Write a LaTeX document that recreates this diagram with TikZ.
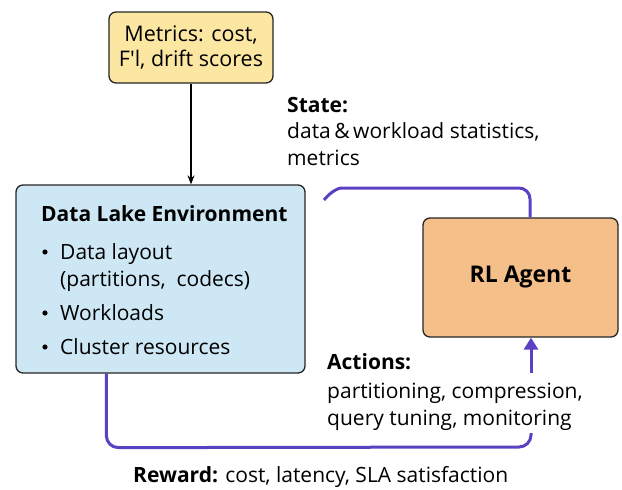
\documentclass[tikz,border=0pt]{standalone}
\usepackage{fontspec}
\setmainfont{Open Sans}
\usetikzlibrary{arrows.meta,calc}
\definecolor{yel}{HTML}{FBE6A2}
\definecolor{blu}{HTML}{CDE8F4}
\definecolor{ora}{HTML}{F5BF8A}
\definecolor{pur}{HTML}{5A40C2}
\tikzset{
  box/.style={draw=black!85,line width=1.3pt,rounded corners=7pt,inner sep=0pt},
  txt/.style={anchor=base west,inner sep=0pt,font=\fontsize{21}{26}\selectfont},
  btxt/.style={txt,font=\fontsize{21}{26}\selectfont\bfseries},
  pline/.style={draw=pur,line width=3pt},
}
\begin{document}
\begin{tikzpicture}[x=1pt,y=-1pt]
\useasboundingbox (0,0) rectangle (622,490);
% boxes
\node[box,fill=yel,minimum width=164pt,minimum height=71pt,align=center,
  font=\fontsize{21.5}{25}\selectfont] (metrics) at (191,47.5) {Metrics: cost,\\F\textquotesingle l, drift scores};
\node[box,fill=blu,minimum width=289pt,minimum height=188pt] (lake) at (160.5,279) {};
\node[box,fill=ora,minimum width=195pt,minimum height=119pt,
  font=\fontsize{23}{28}\selectfont\bfseries] (agent) at (520.5,277.5) {RL Agent};
% lake text
\node[btxt] (laket) at (41,221) {Data Lake Environment};
\node[txt] (b1) at (60,259) {Data layout};
\node[txt] (b1b) at (60,286) {(partitions,\ \ codecs)};
\node[txt] (b2) at (60,320) {Workloads};
\node[txt] (b3) at (60,354) {Cluster resources};
\foreach \n in {b1,b2,b3}{
  \fill (45,0 |- \n.base) ++(0,-7) circle (2.6pt);
}
% state text
\node[btxt] (statet) at (287,112) {State:};
\node[txt] (state1) at (287,138) {data\,\&\,workload statistics,};
\node[txt] (state2) at (287,165) {metrics};
% actions text
\node[btxt] (actt) at (327,369) {Actions:};
\node[txt] (act1) at (327,398) {partitioning, compression,};
\node[txt] (act2) at (327,425) {query tuning, monitoring};
% reward
\node[txt] (rew) at (133,482) {\textbf{Reward:} cost, latency, SLA satisfaction};
% connectors
\draw[-{Stealth[length=9pt,width=7pt]},line width=1.2pt] (metrics.south) -- (metrics.south |- lake.north);
\coordinate (sstart) at (324,200);
\draw[pline,rounded corners=11pt] (sstart)
  .. controls (332,190) and (340,188) .. (352,188) -- (530,188) -- ($(agent.north)+(9.5,0)$);
\coordinate (aend) at (531,433);
\draw[pline,rounded corners=12pt] ($(lake.south west)+(91,0)$) -- ++(0,74) -- (531,447) -- (aend);
\coordinate (astart) at (531,373);
\draw[pline,-{Triangle[length=12pt,width=14pt]}] (astart) -- ($(agent.south)+(10.5,0)$);
\end{tikzpicture}
\end{document}
